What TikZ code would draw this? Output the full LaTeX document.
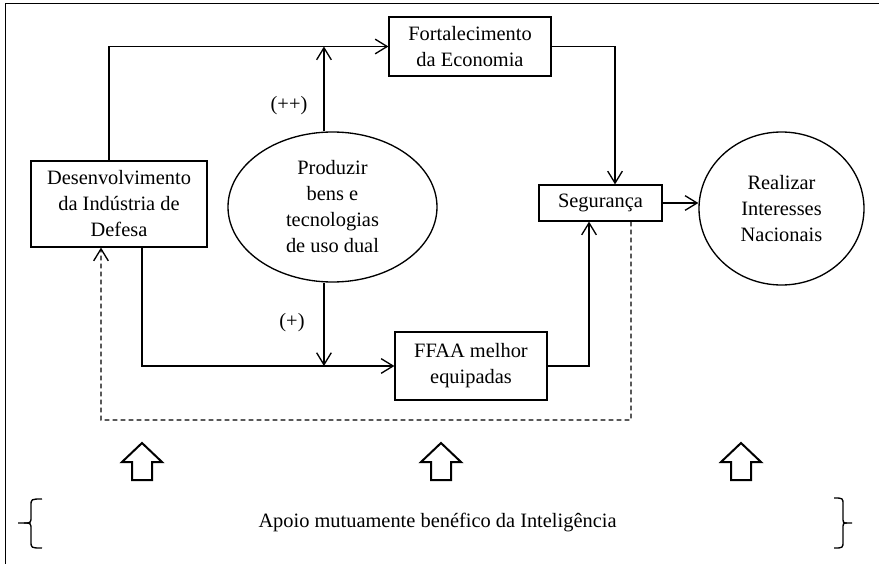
\documentclass[tikz,border=0pt]{standalone}
\usepackage{fontspec}
\setmainfont{Liberation Serif}
\usetikzlibrary{arrows.meta,shapes.geometric}
\begin{document}
\begin{tikzpicture}[x=0.75pt,y=-0.75pt, line width=1pt,
  font=\fontsize{15.3}{19.5}\selectfont,
  box/.style={draw, rectangle, inner sep=0pt, align=center, line width=0.9pt},
  ell/.style={draw, ellipse, inner sep=0pt, align=center},
  arr/.style={-{Straight Barb[length=9pt,width=11pt]}},
  dsh/.style={dash pattern=on 3.5pt off 2.5pt},
  blockarrow/.style={line width=1.5pt, line join=miter}]
\useasboundingbox (0,0) rectangle (879,564);
\draw (5.5,564) -- (5.5,3.5) -- (879,3.5);

\node[box, minimum width=132pt, minimum height=64.5pt] (dev) at (119,204)
  {Desenvolvimento\\da Indústria de\\Defesa};
\node[box, minimum width=121.5pt, minimum height=44.25pt] (fort) at (470,46.5)
  {Fortalecimento\\da Economia};
\node[box, minimum width=92.25pt, minimum height=27pt] (seg) at (600.5,203)
  {Segurança};
\node[box, minimum width=114pt, minimum height=51pt] (ffaa) at (471,366)
  {FFAA melhor\\equipadas};
\node[ell, minimum width=156.75pt, minimum height=112.5pt] (prod) at (332.5,207)
  {Produzir\\bens e\\tecnologias\\de uso dual};
\node[ell, minimum width=123.75pt, minimum height=114.75pt] (real) at (781.5,208.5)
  {Realizar\\Interesses\\Nacionais};

\node (pp) at (289,106) {(++)};
\node (p) at (292,323) {(+)};

% connectors
\draw[arr] ([xshift=-7.5pt]dev.north) |- (fort.west);
\draw[arr] ([xshift=-6.4pt]prod.north) -- ([xshift=-6.4pt]prod.north |- fort.west);
\draw[arr] ([xshift=-6.4pt]prod.south) -- ([xshift=-6.4pt]prod.south |- ffaa.west);
\draw[arr] ([xshift=17.25pt]dev.south) |- (ffaa.west);
\draw[arr] (fort.east) -| ([xshift=10.9pt]seg.north);
\draw[arr] (ffaa.east) -| ([xshift=-8.6pt]seg.south);
\draw[arr] (seg.east) -- (seg.east -| real.west);

\coordinate (dr) at (631,420);
\coordinate (dl) at (101,420);
\draw[arr, dsh] ([xshift=22.9pt]seg.south) -- (dr) -- (dl) -- ([xshift=-13.5pt]dev.south);

% block arrows
\foreach \cx in {142,441,741}{
  \draw[blockarrow] (\cx,443) -- (\cx+20,462) -- (\cx+10,462) -- (\cx+10,480)
    -- (\cx-10,480) -- (\cx-10,462) -- (\cx-20,462) -- cycle;
}

% braces
\draw (42,499) .. controls (31,499) .. (31,506) -- (31,516) .. controls (31,523) .. (24,523) -- (18,523);
\draw (24,523) .. controls (31,523) .. (31,530) -- (31,541) .. controls (31,548) .. (42,548);
\draw (834,498) .. controls (843,498) .. (843,505) -- (843,516) .. controls (843,523) .. (847,523) -- (852,523);
\draw (847,523) .. controls (843,523) .. (843,530) -- (843,541) .. controls (843,548) .. (834,548);

\node (apoio) at (437.5,523) {Apoio mutuamente benéfico da Inteligência};
\end{tikzpicture}
\end{document}
